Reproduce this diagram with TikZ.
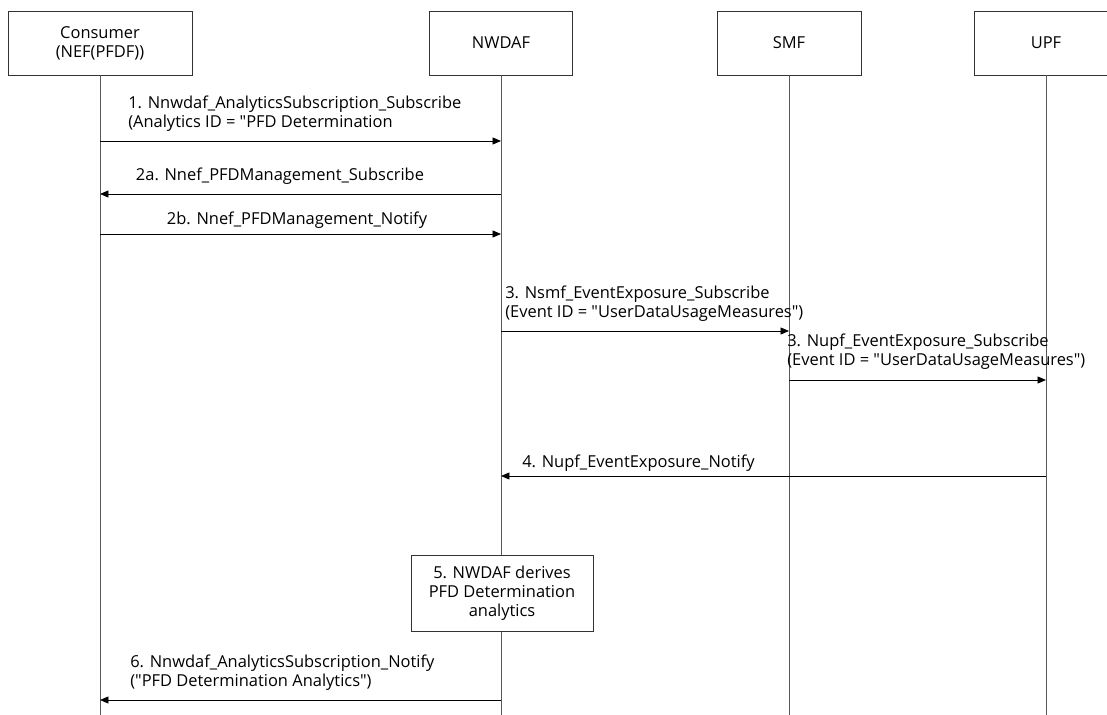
\documentclass[tikz,border=0pt]{standalone}
\usepackage{fontspec}
\setmainfont{Open Sans}
\usetikzlibrary{arrows.meta,positioning}
\newcommand{\msgfont}{\fontsize{11.7}{13.6}\selectfont}
\newcommand{\q}{\textquotedbl}
\tikzset{
	entity/.style={draw=black!80, line width=0.6pt, fill=white, align=center,
		minimum height=1.6cm, inner sep=2pt, font=\msgfont},
	life/.style={draw=black!65, line width=0.6pt},
	msg/.style={draw=black, line width=0.6pt, -{Triangle[length=6pt,width=5pt]}},
	lbl/.style={font=\msgfont, align=left, inner sep=0pt}
}
\begin{document}
\begin{tikzpicture}[x=0.025cm, y=-0.025cm]
		\useasboundingbox (0,0) rectangle (1107,715);

		% heads
		\node[entity, minimum width=4.6cm]   (cons)  at (100,43)  {Consumer\\(NEF(PFDF))};
		\node[entity, minimum width=3.575cm] (nwdaf) at (501,43)  {NWDAF};
		\node[entity, minimum width=3.6cm]   (smf)   at (789,43)  {SMF};
		\node[entity, minimum width=3.6cm]   (upf)   at (1046,43) {UPF};

		% lifelines
		\coordinate (bottom) at (0,715);
		\foreach \n in {cons,nwdaf,smf,upf} {
			\draw[life] (\n.south) -- (\n.south |- bottom);
		}

		% message rows
		\foreach \m/\y in {m1/141, m2a/194, m2b/234, m3/331, m3b/380, m4/476, m6/700} {
			\coordinate (\m) at (0,\y);
		}

		\draw[msg] (cons |- m1) -- (nwdaf |- m1);
		\node[lbl, anchor=south west] (l1) at (128,132)
			{1. Nnwdaf\_AnalyticsSubscription\_Subscribe\\(Analytics ID = \q PFD Determination};

		\draw[msg] (nwdaf |- m2a) -- (cons |- m2a);
		\node[lbl] (l2a) at (280,176) {2a. Nnef\_PFDManagement\_Subscribe};

		\draw[msg] (cons |- m2b) -- (nwdaf |- m2b);
		\node[lbl] (l2b) at (297,220) {2b. Nnef\_PFDManagement\_Notify};

		\draw[msg] (nwdaf |- m3) -- (smf |- m3);
		\node[lbl, anchor=south west] (l3) at (505,322)
			{3. Nsmf\_EventExposure\_Subscribe\\(Event ID = \q UserDataUsageMeasures\q)};

		\draw[msg] (smf |- m3b) -- (upf |- m3b);
		\node[lbl, anchor=south west] (l3b) at (787,370)
			{3. Nupf\_EventExposure\_Subscribe\\(Event ID = \q UserDataUsageMeasures\q)};

		\draw[msg] (upf |- m4) -- (nwdaf |- m4);
		\node[lbl, anchor=west] (l4) at (522,463) {4. Nupf\_EventExposure\_Notify};

		% analytics step
		\node[entity, minimum width=4.55cm, minimum height=1.9cm] (derive) at (502,593)
			{5. NWDAF derives\\PFD Determination\\analytics};

		\draw[msg] (nwdaf |- m6) -- (cons |- m6);
		\node[lbl, anchor=south west] (l6) at (130,691)
			{6. Nnwdaf\_AnalyticsSubscription\_Notify\\(\q PFD Determination Analytics\q)};
\end{tikzpicture}
\end{document}
